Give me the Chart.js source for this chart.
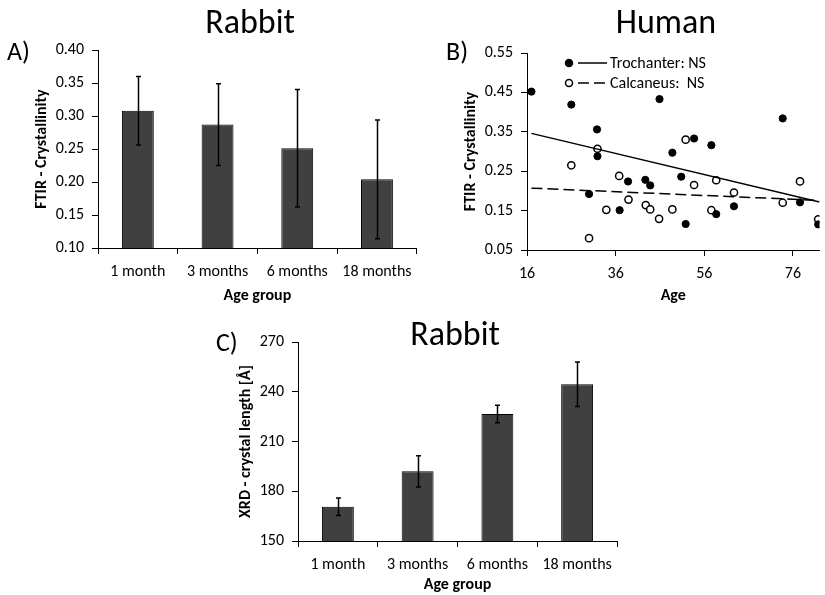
<!DOCTYPE html>
<html><head><meta charset="utf-8">
<script src="https://cdn.jsdelivr.net/npm/chart.js@4/dist/chart.umd.min.js"></script>
<style>
html,body{margin:0;padding:0;background:#fff;}
body{width:825px;height:595px;position:relative;overflow:hidden;font-family:Carlito,Lato,sans-serif;}
canvas{position:absolute;}
.lbl{position:absolute;color:#000;white-space:nowrap;line-height:1;}
</style></head><body>
<canvas id="cA" width="420" height="310" style="left:0;top:0"></canvas>
<canvas id="cB" width="410" height="310" style="left:415px;top:0"></canvas>
<canvas id="cC" width="440" height="285" style="left:200px;top:310px"></canvas>
<div class="lbl" id="tA" style="font-size:34px;left:250px;top:5px;transform:translateX(-50%)">Rabbit</div>
<div class="lbl" id="tB" style="font-size:34px;left:666px;top:5px;transform:translateX(-50%)">Human</div>
<div class="lbl" id="tC" style="font-size:34px;left:455px;top:317px;transform:translateX(-50%)">Rabbit</div>
<div class="lbl" style="font-size:26px;left:7px;top:38px">A)</div>
<div class="lbl" style="font-size:26px;left:446px;top:38px">B)</div>
<div class="lbl" style="font-size:26px;left:216px;top:329px">C)</div>
<script>
// ---------- data ----------
const ageGroups = ['1 month', '3 months', '6 months', '18 months'];
const ftirRabbit = [0.308, 0.287, 0.251, 0.204];
const ftirRabbitErr = [0.052, 0.062, 0.089, 0.090];
const ftirTicks = [0.10, 0.15, 0.20, 0.25, 0.30, 0.35, 0.40];

const trochAge = [17.0, 26.0, 45.9, 31.8, 30.0, 31.9, 36.9, 38.8, 42.7, 43.8, 48.8, 50.8, 51.8, 53.7, 57.6, 58.7, 62.7, 73.7, 77.6, 81.7];
const trochVal = [0.452, 0.419, 0.433, 0.356, 0.192, 0.288, 0.151, 0.224, 0.228, 0.214, 0.297, 0.236, 0.116, 0.333, 0.316, 0.141, 0.161, 0.384, 0.171, 0.115];
const calcAge = [26.0, 31.9, 30.0, 33.9, 36.8, 38.9, 42.8, 43.8, 45.8, 48.8, 51.8, 53.7, 57.6, 58.7, 62.7, 73.7, 77.6, 81.7];
const calcVal = [0.265, 0.307, 0.080, 0.152, 0.238, 0.178, 0.164, 0.153, 0.129, 0.153, 0.330, 0.215, 0.151, 0.227, 0.196, 0.170, 0.224, 0.128];
const trendAge = [17, 82];
const trochTrend = [0.346, 0.172];
const calcTrend = [0.207, 0.176];
const ageTicks = [16, 36, 56, 76];
const humanTicks = [0.05, 0.15, 0.25, 0.35, 0.45, 0.55];
const legendLabels = ['Trochanter: NS', 'Calcaneus:  NS'];

const xrdRabbit = [170.7, 192.0, 226.6, 244.5];
const xrdRabbitErr = [5.3, 9.4, 5.3, 13.4];
const xrdTicks = [150, 180, 210, 240, 270];

// ---------- styling ----------
const FONT = 'Carlito, Lato, sans-serif';
Chart.defaults.font.family = FONT;
Chart.defaults.color = '#000';
Chart.defaults.animation = false;

const errorBars = {
  id: 'errorBars',
  afterDatasetsDraw(chart, args, opts) {
    if (!opts.errors) return;
    const ctx = chart.ctx, meta = chart.getDatasetMeta(0);
    const ys = chart.scales.y, ds = chart.data.datasets[0].data;
    ctx.save();
    ctx.strokeStyle = '#000'; ctx.lineWidth = 1.5;
    meta.data.forEach((bar, i) => {
      const x = Math.round(bar.x) + 0.5;
      const top = ys.getPixelForValue(ds[i] + opts.errors[i]);
      const bot = ys.getPixelForValue(ds[i] - opts.errors[i]);
      ctx.beginPath();
      ctx.moveTo(x, top); ctx.lineTo(x, bot);
      ctx.moveTo(x - 2.5, top); ctx.lineTo(x + 2.5, top);
      ctx.moveTo(x - 2.5, bot); ctx.lineTo(x + 2.5, bot);
      ctx.stroke();
    });
    ctx.restore();
  }
};

const customLegend = {
  id: 'customLegend',
  afterDraw(chart, args, opts) {
    if (!opts.items) return;
    const ctx = chart.ctx, a = chart.chartArea;
    ctx.save();
    opts.items.forEach((it, k) => {
      const y = a.top + opts.dy + k * opts.rowH;
      const x = a.left + opts.dx;
      ctx.beginPath();
      ctx.arc(x, y, 3.5, 0, Math.PI * 2);
      ctx.fillStyle = it.fill; ctx.fill();
      ctx.lineWidth = 1.5; ctx.strokeStyle = '#000'; ctx.stroke();
      ctx.beginPath();
      ctx.setLineDash(it.dash);
      ctx.moveTo(x + 9, y); ctx.lineTo(x + 38, y);
      ctx.stroke();
      ctx.setLineDash([]);
      ctx.fillStyle = '#000';
      ctx.font = '16px ' + FONT;
      ctx.textBaseline = 'middle';
      ctx.fillText(it.text, x + 41, y + 1);
    });
    ctx.restore();
  }
};

function axisY(width, ticks, dec, titleText, titlePad) {
  return {
    min: ticks[0], max: ticks[ticks.length - 1],
    afterBuildTicks: s => { s.ticks = ticks.map(v => ({ value: v })); },
    afterFit: s => { s.width = width; },
    grid: { drawOnChartArea: false, drawTicks: true, tickLength: 6, color: '#000', lineWidth: 1 },
    border: { display: true, color: '#000', width: 1 },
    ticks: { font: { size: 16 }, padding: 8, callback: v => Number(v).toFixed(dec) },
    title: { display: true, text: titleText, font: { size: 16, weight: 'bold' }, padding: { top: titlePad, bottom: 0 } }
  };
}
function axisXCat(height, titlePad) {
  return {
    type: 'category', offset: true,
    afterFit: s => { s.height = height; },
    grid: { offset: true, drawOnChartArea: false, drawTicks: true, tickLength: 6, color: '#000', lineWidth: 1 },
    border: { display: true, color: '#000', width: 1 },
    ticks: { font: { size: 16 }, padding: 8, maxRotation: 0, autoSkip: false },
    title: { display: true, text: 'Age group', font: { size: 16, weight: 'bold' }, padding: { top: 0, bottom: titlePad } }
  };
}

// ---------- panel A ----------
new Chart(document.getElementById('cA'), {
  type: 'bar',
  data: { labels: ageGroups, datasets: [{ data: ftirRabbit, backgroundColor: '#404040', borderColor: '#000', borderWidth: 1, barPercentage: 0.4, categoryPercentage: 1 }] },
  options: {
    responsive: false, devicePixelRatio: 1,
    layout: { padding: { left: 0, top: 50, right: 3, bottom: 0 } },
    plugins: { legend: { display: false }, tooltip: { enabled: false }, errorBars: { errors: ftirRabbitErr } },
    scales: { x: axisXCat(62, 4), y: axisY(98, ftirTicks, 2, 'FTIR - Crystallinity', 32) }
  },
  plugins: [errorBars]
});

// ---------- panel B ----------
const pts = (xs, ys) => xs.map((x, i) => ({ x, y: ys[i] }));
new Chart(document.getElementById('cB'), {
  type: 'scatter',
  data: { datasets: [
    { data: pts(trendAge, trochTrend), type: 'line', borderColor: '#000', borderWidth: 1.5, pointRadius: 0, fill: false, order: 0 },
    { data: pts(trendAge, calcTrend), type: 'line', borderColor: '#000', borderWidth: 1.5, borderDash: [11, 5], pointRadius: 0, fill: false, order: 0 },
    { data: pts(trochAge, trochVal), pointRadius: 3.6, pointBackgroundColor: '#000', pointBorderColor: '#000', pointBorderWidth: 1, order: 1 },
    { data: pts(calcAge, calcVal), pointRadius: 3.6, pointBackgroundColor: '#fff', pointBorderColor: '#000', pointBorderWidth: 1.5, order: 1 }
  ] },
  options: {
    responsive: false, devicePixelRatio: 1,
    layout: { padding: { left: 0, top: 53, right: 0, bottom: 0 } },
    plugins: { legend: { display: false }, tooltip: { enabled: false },
      customLegend: { dx: 42, dy: 10, rowH: 20, items: [
        { text: legendLabels[0], fill: '#000', dash: [] },
        { text: legendLabels[1], fill: '#fff', dash: [11, 5] } ] } },
    scales: {
      x: {
        type: 'linear', min: 16, max: 82,
        afterBuildTicks: s => { s.ticks = ageTicks.map(v => ({ value: v })); },
        afterFit: s => { s.height = 60; },
        grid: { drawOnChartArea: false, drawTicks: true, tickLength: 6, color: '#000' },
        border: { display: true, color: '#000', width: 1 },
        ticks: { font: { size: 16 }, padding: 8, maxRotation: 0, autoSkip: false },
        title: { display: true, text: 'Age', font: { size: 16, weight: 'bold' }, padding: { top: 0, bottom: 4 } }
      },
      y: axisY(112, humanTicks, 2, 'FTIR - Crystallinity', 46)
    }
  },
  plugins: [customLegend]
});

// ---------- panel C ----------
new Chart(document.getElementById('cC'), {
  type: 'bar',
  data: { labels: ageGroups, datasets: [{ data: xrdRabbit, backgroundColor: '#404040', borderColor: '#000', borderWidth: 1, barPercentage: 0.4, categoryPercentage: 1 }] },
  options: {
    responsive: false, devicePixelRatio: 1,
    layout: { padding: { left: 0, top: 32, right: 23, bottom: 0 } },
    plugins: { legend: { display: false }, tooltip: { enabled: false }, errorBars: { errors: xrdRabbitErr } },
    scales: { x: axisXCat(54, 0), y: axisY(98, xrdTicks, 0, 'XRD - crystal length [Å]', 36) }
  },
  plugins: [errorBars]
});
</script>
</body></html>
